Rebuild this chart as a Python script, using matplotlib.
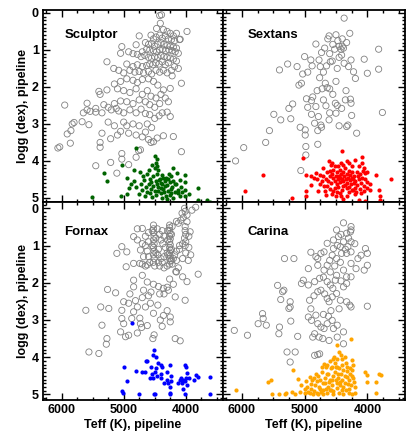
import matplotlib
matplotlib.use("Agg")
import matplotlib.pyplot as plt
from matplotlib.ticker import MultipleLocator

# (Teff, logg) pairs, per galaxy
SCL_GIANTS = [
    (4390, 0.05), (4420, 0.07), (4410, 0.28), (4360, 0.45), (4470, 0.42), (3980, 0.50), (4300, 0.50),
    (4250, 0.55), (4150, 0.55), (4200, 0.62), (4750, 0.62), (4560, 0.60), (4520, 0.70), (4480, 0.65),
    (4420, 0.60), (4380, 0.68), (4330, 0.62), (4280, 0.70), (4230, 0.72), (4180, 0.75), (4100, 0.72),
    (4090, 0.71), (4800, 0.86), (4650, 0.80), (4600, 0.85), (4550, 0.82), (4500, 0.90), (4450, 0.85),
    (4400, 0.80), (4350, 0.85), (4300, 0.88), (4250, 0.90), (4200, 0.92), (4150, 0.95), (4120, 1.09),
    (4170, 1.05), (4220, 1.02), (4270, 1.00), (4320, 1.02), (4370, 0.98), (4420, 1.00), (4470, 1.05),
    (4520, 1.02), (4580, 1.00), (4630, 0.98), (4700, 1.05), (5030, 0.91), (5050, 1.09), (4920, 1.05),
    (4850, 1.10), (4780, 1.12), (4720, 1.18), (4660, 1.15), (4600, 1.20), (4550, 1.22), (4500, 1.18),
    (4450, 1.20), (4400, 1.15), (4350, 1.18), (4300, 1.20), (4250, 1.22), (4200, 1.25), (4150, 1.30),
    (4280, 1.35), (4330, 1.40), (4380, 1.32), (4430, 1.38), (4480, 1.35), (4530, 1.40), (4580, 1.38),
    (4630, 1.42), (4700, 1.45), (4780, 1.40), (4850, 1.45), (4950, 1.38), (5270, 1.32), (5160, 1.50),
    (5080, 1.55), (5000, 1.62), (4900, 1.55), (4820, 1.60), (4750, 1.58), (4680, 1.62), (4600, 1.58),
    (4550, 1.65), (4480, 1.55), (4420, 1.60), (4360, 1.55), (4300, 1.62), (4230, 1.55), (4180, 1.45),
    (4220, 1.70), (4120, 1.50), (4070, 1.90), (4250, 2.04), (4360, 2.08), (4450, 1.95), (4520, 1.85),
    (4600, 1.78), (4700, 1.80), (4780, 1.88), (4850, 1.82), (4950, 1.78), (5050, 1.85), (5150, 1.92),
    (5270, 2.08), (5400, 2.12), (5380, 2.20), (5100, 2.05), (5000, 2.10), (4900, 2.15), (4800, 2.05),
    (4700, 2.20), (4620, 2.10), (4560, 2.25), (4480, 2.30), (4400, 2.20), (4330, 2.30), (4280, 2.40),
    (4420, 2.45), (4500, 2.55), (4580, 2.48), (4650, 2.40), (4750, 2.35), (4850, 2.45), (4950, 2.40),
    (5050, 2.38), (5150, 2.45), (5250, 2.55), (5320, 2.48), (5450, 2.58), (5590, 2.44), (5590, 2.62),
    (5540, 2.66), (5450, 2.68), (5650, 2.70), (5950, 2.49), (5800, 2.96), (5830, 3.00), (5670, 2.94),
    (5560, 3.02), (5350, 2.70), (5200, 2.62), (5120, 2.58), (5080, 2.65), (5000, 2.70), (4900, 2.62),
    (4800, 2.70), (4720, 2.60), (4650, 2.72), (4580, 2.75), (4500, 2.85), (4430, 2.78), (4380, 2.70),
    (4300, 2.68), (4250, 2.80), (5000, 2.95), (4950, 3.05), (5250, 2.95), (5150, 3.05), (4850, 3.00),
    (4750, 3.05), (4620, 3.00), (4550, 3.10), (5910, 3.27), (5850, 3.18), (5860, 3.52), (6030, 3.62),
    (6060, 3.65), (5350, 3.25), (5380, 3.63), (5380, 3.50), (5210, 3.40), (5100, 3.30), (5050, 3.20),
    (4920, 3.25), (4800, 3.30), (4700, 3.35), (4650, 3.22), (4600, 3.42), (4520, 3.48), (4460, 3.38),
    (4200, 3.34), (4360, 3.32), (5030, 3.80), (5030, 3.95), (4730, 3.70), (4760, 3.72), (4560, 3.50),
    (4070, 3.75), (5210, 4.04), (5110, 4.33), (5450, 4.13), (4920, 4.10), (4800, 3.90),
]
SCL_DWARFS = [
    (4800, 3.66), (4490, 3.88), (4470, 3.95), (4480, 4.05), (4460, 4.15), (4550, 4.11), (4500, 4.20),
    (4440, 4.25), (5320, 4.33), (5270, 4.53), (5510, 4.98), (5030, 4.11), (4840, 4.24), (4730, 4.29),
    (4840, 4.55), (4920, 4.72), (4950, 4.90), (5050, 4.96), (4680, 4.52), (4620, 4.35), (4580, 4.50),
    (4600, 4.62), (4560, 4.75), (4520, 4.40), (4480, 4.55), (4450, 4.70), (4420, 4.48), (4400, 4.60),
    (4380, 4.38), (4360, 4.75), (4340, 4.55), (4320, 4.45), (4300, 4.65), (4280, 4.80), (4260, 4.58),
    (4240, 4.42), (4220, 4.70), (4200, 4.20), (4200, 4.55), (4180, 4.85), (4140, 4.33), (4150, 4.62),
    (4010, 4.38), (4010, 4.58), (4010, 4.78), (4010, 4.96), (3800, 4.74), (3800, 5.05), (3660, 5.05),
    (3610, 5.10), (4120, 4.87), (4250, 4.92), (4320, 4.95), (4400, 4.88), (4480, 4.92), (4550, 4.98),
    (4620, 4.85), (4700, 4.78), (4760, 4.90), (4800, 4.70), (4880, 4.62), (4650, 4.95), (4380, 5.00),
    (4300, 5.02), (4200, 5.00), (4100, 4.95), (4070, 4.70), (4100, 4.52), (4440, 4.80), (4520, 4.68),
    (4360, 4.45), (4330, 4.68), (4460, 4.35), (4580, 4.88), (4280, 4.50), (4240, 4.75), (4400, 4.72),
    (4470, 4.62), (4350, 4.85), (4500, 4.80), (4560, 4.58), (4640, 4.70), (4720, 4.62), (4180, 4.62),
    (4130, 4.78), (4270, 4.35), (4430, 4.52), (4380, 4.62), (4230, 4.88), (4600, 4.25), (4690, 4.42),
    (4950, 4.45), (4060, 4.85), (3950, 4.90),
]
SEX_GIANTS = [
    (4370, 0.14), (4610, 0.62), (4500, 0.59), (4630, 0.70), (4470, 0.75), (4400, 0.70), (4520, 0.98),
    (4450, 0.90), (4380, 0.95), (4400, 0.90), (4420, 0.98), (4280, 0.55), (3820, 0.98), (3820, 1.52),
    (4820, 0.84), (4730, 1.07), (4680, 0.95), (4590, 1.32), (4560, 1.30), (4480, 1.50), (4410, 1.14),
    (4370, 1.36), (4260, 1.27), (4050, 1.25), (4000, 1.63), (4220, 1.59), (4190, 1.77), (5000, 1.18),
    (4900, 1.27), (4880, 1.43), (4770, 1.27), (4750, 1.45), (4650, 1.43), (5270, 1.38), (5120, 1.45),
    (5400, 1.54), (5030, 1.65), (5090, 1.95), (5050, 1.90), (4760, 1.75), (4670, 1.90), (4640, 2.02),
    (4720, 2.05), (4600, 2.05), (4340, 2.10), (4270, 2.33), (4260, 2.44), (4970, 2.32), (4870, 2.27),
    (4890, 2.37), (4820, 2.53), (4660, 2.51), (4510, 2.44), (4480, 2.50), (4410, 2.58), (5190, 2.46),
    (5250, 2.58), (5490, 2.74), (5380, 2.89), (5220, 2.86), (4890, 2.74), (4840, 2.98), (4740, 3.03),
    (4610, 2.89), (4500, 2.71), (4330, 3.07), (4310, 3.03), (4250, 2.77), (3760, 2.69), (5070, 3.09),
    (4990, 3.16), (4990, 3.30), (4790, 3.18), (4730, 3.09), (5560, 3.18), (5620, 3.50), (5970, 3.64),
    (6100, 4.00), (4980, 3.61), (4980, 3.84), (4790, 3.55), (5060, 4.26), (4170, 3.25), (4550, 0.85),
    (4330, 0.80), (4450, 1.20), (4600, 1.10), (4300, 1.45), (4700, 1.60), (4950, 1.60), (4500, 1.85),
    (4800, 2.10), (4550, 2.20), (4700, 2.35), (4350, 2.35), (4600, 2.70), (4950, 2.55), (4450, 3.05),
    (4780, 2.80),
]
SEX_DWARFS = [
    (5950, 4.81), (5670, 4.38), (5200, 4.99), (5020, 3.93), (4980, 4.38), (4970, 4.82), (4970, 4.96),
    (4890, 4.65), (4820, 4.33), (4760, 4.38), (4710, 4.20), (4690, 4.69), (4660, 4.92), (4610, 4.00),
    (4590, 4.27), (4540, 4.45), (4510, 4.72), (4460, 4.15), (4400, 3.73), (4430, 4.45), (4380, 4.68),
    (4330, 4.00), (4330, 4.72), (4250, 4.15), (4230, 4.50), (4200, 3.98), (4200, 4.72), (4150, 4.42),
    (4080, 3.90), (4080, 4.06), (4030, 4.33), (4000, 4.56), (3950, 4.78), (3870, 4.38), (3820, 4.78),
    (3800, 4.95), (3800, 5.05), (3630, 4.50), (4200, 4.90), (4250, 4.78), (4330, 4.96), (4440, 4.86),
    (4560, 4.90), (4380, 5.04), (4130, 5.05), (4030, 5.08), (4700, 4.40), (4650, 4.30), (4620, 4.55),
    (4600, 4.40), (4580, 4.60), (4560, 4.35), (4540, 4.25), (4520, 4.55), (4500, 4.40), (4490, 4.62),
    (4480, 4.30), (4470, 4.50), (4460, 4.70), (4450, 4.40), (4440, 4.25), (4430, 4.58), (4420, 4.35),
    (4410, 4.78), (4400, 4.48), (4390, 4.30), (4380, 4.55), (4370, 4.40), (4360, 4.65), (4350, 4.20),
    (4340, 4.50), (4330, 4.35), (4320, 4.60), (4310, 4.45), (4300, 4.28), (4290, 4.70), (4280, 4.52),
    (4270, 4.38), (4260, 4.62), (4250, 4.45), (4240, 4.30), (4230, 4.78), (4220, 4.60), (4210, 4.40),
    (4190, 4.55), (4170, 4.30), (4160, 4.65), (4140, 4.50), (4120, 4.35), (4110, 4.75), (4100, 4.60),
    (4090, 4.45), (4070, 4.28), (4060, 4.68), (4040, 4.50), (4600, 4.75), (4640, 4.68), (4550, 4.82),
    (4480, 4.85), (4520, 4.15), (4580, 4.12), (4660, 4.50), (4720, 4.55), (4750, 4.62), (4800, 4.50),
    (4850, 4.45), (4900, 4.40), (4780, 4.80), (4680, 4.80), (4500, 4.95), (4420, 4.95), (4300, 4.85),
    (4180, 4.85), (4100, 4.88), (4050, 4.80), (4000, 4.72), (3960, 4.62), (4000, 4.30), (4050, 4.20),
    (4130, 4.15), (4380, 4.12), (4420, 4.05), (4290, 4.05), (4560, 4.05),
]
FNX_GIANTS = [
    (4020, 0.00), (4060, 0.13), (4010, 0.08), (3980, 0.18), (3840, -0.03), (3900, 0.05), (4040, 0.25),
    (4080, 0.32), (4120, 0.40), (4220, 0.49), (4150, 0.35), (4010, 0.49), (3980, 0.36), (3930, 0.63),
    (3950, 0.75), (4520, 0.45), (4520, 0.55), (4520, 0.65), (4510, 0.75), (4520, 0.85), (4510, 0.95),
    (4520, 1.05), (4510, 1.15), (4520, 1.25), (4510, 1.35), (4520, 1.45), (4500, 1.55), (4540, 0.60),
    (4540, 1.00), (4480, 0.80), (4480, 1.20), (4260, 0.45), (4260, 0.52), (4260, 0.60), (4250, 0.68),
    (4260, 0.75), (4250, 0.82), (4260, 0.90), (4250, 0.98), (4260, 1.05), (4250, 1.12), (4260, 1.20),
    (4250, 1.28), (4260, 1.35), (4250, 1.42), (4260, 1.50), (4230, 0.70), (4290, 0.85), (4230, 1.10),
    (4290, 1.25), (4230, 1.40), (4290, 0.60), (4010, 0.60), (4000, 0.70), (4020, 0.80), (4000, 0.90),
    (4010, 1.00), (4050, 0.95), (4100, 1.00), (4100, 1.10), (4150, 1.15), (4180, 1.25), (4200, 1.35),
    (4150, 1.40), (4220, 1.50), (4300, 1.55), (4350, 1.60), (4380, 1.45), (4400, 1.35), (4350, 1.30),
    (4300, 1.20), (4330, 1.05), (4370, 0.95), (4400, 0.85), (4420, 0.70), (4380, 0.60), (4350, 0.75),
    (4440, 1.10), (4450, 1.25), (4440, 1.45), (4420, 1.55), (4460, 0.55), (4600, 0.65), (4650, 0.75),
    (4600, 0.90), (4650, 1.00), (4620, 1.15), (4600, 1.30), (4680, 1.30), (4580, 1.45), (4650, 1.55),
    (4700, 1.50), (4700, 0.54), (4780, 0.55), (4840, 0.76), (4780, 0.85), (4730, 1.12), (4700, 0.95),
    (4950, 1.17), (5030, 1.03), (5110, 1.21), (4960, 1.57), (4840, 1.48), (4740, 1.48), (4620, 1.52),
    (4120, 1.60), (4160, 1.70), (4050, 1.35), (4000, 1.20), (3950, 1.05), (3920, 1.25), (3960, 1.40),
    (4840, 1.93), (4840, 2.11), (4700, 1.80), (4620, 1.98), (4520, 2.04), (4440, 2.10), (4360, 2.15),
    (4420, 2.30), (4560, 2.25), (4700, 2.40), (4150, 1.71), (4050, 1.84), (3980, 1.97), (3800, 1.77),
    (4260, 1.90), (4200, 2.04), (4300, 2.12), (4010, 2.47), (4170, 2.38), (4280, 2.20), (4350, 2.30),
    (5260, 2.18), (5130, 2.27), (5000, 2.51), (5030, 2.74), (4920, 2.55), (4840, 2.78), (4810, 2.48),
    (4780, 2.65), (4650, 2.65), (4570, 2.55), (4520, 2.82), (4410, 3.00), (4360, 2.88), (4300, 2.75),
    (4250, 2.92), (5610, 2.74), (5370, 2.65), (5240, 2.69), (5350, 3.14), (5030, 2.96), (5000, 3.10),
    (5050, 3.32), (4920, 3.41), (4970, 3.45), (4870, 2.96), (4730, 3.10), (4710, 3.20), (4740, 2.95),
    (4780, 3.35), (4620, 3.15), (4530, 3.50), (4510, 3.40), (4380, 3.17), (5270, 3.50), (5280, 3.65),
    (5560, 3.86), (5400, 3.90), (4170, 3.50), (4090, 3.56), (4250, 3.05), (4600, 2.35), (4450, 2.60),
    (4900, 2.30), (4680, 2.20),
]
FNX_DWARFS = [
    (4870, 3.07), (4510, 3.80), (4530, 3.95), (4480, 4.00), (4560, 4.25), (4620, 4.10), (4640, 4.10),
    (4450, 4.15), (4480, 4.30), (4400, 4.20), (4380, 4.25), (4250, 4.20), (4300, 4.40), (4400, 4.45),
    (4460, 4.50), (4500, 4.40), (4530, 4.55), (4550, 4.45), (4580, 4.55), (4650, 4.40), (4710, 4.40),
    (4800, 4.38), (5000, 4.25), (4940, 4.65), (5020, 4.90), (5010, 4.95), (4750, 5.00), (4500, 4.98),
    (4510, 5.00), (4260, 5.00), (4250, 4.95), (4250, 4.80), (4280, 4.70), (4230, 4.65), (4350, 4.68),
    (4400, 4.55), (4100, 4.60), (4020, 4.20), (4000, 4.25), (3980, 4.42), (3950, 4.55), (4000, 4.55),
    (4050, 4.60), (4080, 4.55), (4020, 4.65), (3980, 4.75), (4050, 4.85), (4060, 4.70), (4020, 5.00),
    (3870, 4.60), (3840, 4.48), (3810, 4.53), (3610, 4.53), (3610, 5.00), (4300, 4.60), (4230, 4.50),
    (4120, 4.70),
]
CAR_GIANTS = [
    (4380, 0.39), (4260, 0.49), (4260, 0.58), (4270, 0.63), (4330, 0.67), (4490, 0.58), (4460, 0.76),
    (4540, 0.85), (4380, 0.90), (4260, 0.90), (4310, 1.03), (4430, 1.03), (4540, 1.08), (4640, 0.94),
    (4690, 1.17), (4740, 1.21), (4790, 1.35), (4560, 1.26), (4490, 1.35), (4410, 1.21), (4330, 1.21),
    (4260, 1.17), (4900, 1.18), (4820, 1.30), (4030, 1.08), (4000, 1.21), (4100, 1.26), (4000, 1.53),
    (4050, 1.66), (4260, 1.48), (4380, 1.66), (4180, 1.62), (4330, 1.84), (4260, 1.84), (5320, 1.35),
    (5170, 1.35), (4940, 1.62), (4790, 1.53), (4690, 1.66), (4640, 1.53), (4590, 1.71), (4490, 1.80),
    (5020, 1.93), (5050, 2.02), (4940, 2.06), (4840, 1.97), (4760, 1.88), (4740, 2.20), (4790, 2.24),
    (4640, 1.97), (4590, 2.06), (4510, 1.93), (4380, 2.11), (4330, 2.02), (5430, 2.07), (5350, 2.24),
    (5330, 2.20), (5380, 2.45), (5230, 2.51), (5230, 2.65), (5250, 2.69), (4920, 2.47), (4640, 2.42),
    (4610, 2.51), (4560, 2.38), (4490, 2.29), (4430, 2.47), (4330, 2.51), (4280, 2.60), (4260, 2.65),
    (4000, 2.63), (5670, 2.83), (5660, 2.96), (5740, 3.10), (5610, 3.14), (5400, 3.19), (5410, 3.37),
    (5220, 3.03), (4940, 2.92), (4890, 3.01), (4820, 2.87), (4790, 3.10), (4740, 3.19), (4690, 3.23),
    (4640, 3.10), (4560, 3.01), (4540, 3.23), (4480, 3.14), (4380, 3.32), (4840, 3.37), (4770, 3.46),
    (4710, 3.50), (4870, 3.46), (4610, 3.55), (4480, 3.46), (4380, 3.64), (6120, 3.28), (5910, 3.41),
    (5110, 3.44), (5280, 3.86), (5150, 3.86), (5230, 4.13), (4840, 3.95), (4760, 3.91), (4790, 3.93),
    (4300, 0.80), (4420, 0.70), (4350, 1.10), (4480, 1.00), (4200, 0.95), (4150, 1.35), (4430, 1.45),
    (4600, 1.40), (4520, 1.55), (4700, 1.85), (4420, 1.95), (4550, 2.15), (4680, 2.30), (4850, 2.35),
    (4450, 2.70), (4580, 2.75), (4700, 2.85), (4900, 2.70), (4620, 2.90),
]
CAR_DWARFS = [
    (6090, 4.89), (5580, 4.67), (5540, 4.60), (5520, 4.98), (5320, 4.98), (5290, 4.96), (5200, 4.94),
    (5180, 4.35), (5100, 4.58), (5070, 4.94), (5000, 4.96), (4950, 4.94), (4900, 4.72), (4920, 4.54),
    (4870, 4.98), (4820, 4.45), (4800, 4.63), (4770, 4.80), (4740, 4.93), (4690, 4.17), (4660, 4.26),
    (4640, 4.44), (4610, 4.67), (4590, 4.89), (4560, 4.26), (4530, 3.99), (4490, 3.68), (4480, 4.26),
    (4460, 4.44), (4430, 4.67), (4400, 4.89), (4380, 4.98), (4360, 4.00), (4330, 4.26), (4330, 4.53),
    (4310, 4.71), (4280, 4.44), (4260, 3.50), (4250, 4.08), (4250, 4.98), (4230, 4.22), (4220, 4.67),
    (4200, 4.80), (4030, 4.40), (4000, 4.49), (4000, 4.67), (3870, 4.67), (3860, 4.96), (3820, 4.44),
    (3790, 4.49), (4900, 4.85), (4850, 4.90), (4800, 4.95), (4750, 4.60), (4720, 4.40), (4700, 4.70),
    (4680, 4.55), (4660, 4.85), (4640, 4.20), (4620, 4.45), (4600, 4.60), (4580, 4.30), (4570, 4.75),
    (4550, 4.50), (4540, 4.90), (4520, 4.15), (4510, 4.40), (4500, 4.62), (4490, 4.82), (4480, 4.05),
    (4470, 4.55), (4450, 4.30), (4440, 4.75), (4420, 4.45), (4410, 4.20), (4400, 4.60), (4390, 4.35),
    (4380, 4.80), (4360, 4.50), (4350, 4.70), (4340, 4.15), (4320, 4.38), (4300, 4.85), (4290, 4.60),
    (4270, 4.30), (4260, 4.75), (4240, 4.50), (4300, 4.95), (4450, 4.95), (4550, 4.98), (4650, 4.95),
    (4700, 4.98), (4760, 4.85), (4830, 4.75), (4880, 4.60), (4960, 4.80), (5050, 4.75), (4980, 4.65),
    (4720, 4.25), (4600, 4.10), (4420, 3.95), (4560, 4.62), (4500, 4.25), (4620, 4.80), (4680, 4.70),
    (4780, 4.50), (4400, 4.05), (4450, 3.85), (4540, 4.05), (4250, 4.35), (4230, 4.55), (5150, 4.98),
    (5400, 4.98), (5000, 4.85), (4920, 4.95), (4780, 4.98), (4850, 4.55), (4700, 4.88), (4580, 4.88),
    (4480, 4.70), (4340, 4.88), (4200, 4.95),
]

NAMES = ["Sculptor", "Sextans", "Fornax", "Carina"]
GIANTS = [SCL_GIANTS, SEX_GIANTS, FNX_GIANTS, CAR_GIANTS]
DWARFS = [SCL_DWARFS, SEX_DWARFS, FNX_DWARFS, CAR_DWARFS]
COLORS = ["#006400", "#ff0000", "#0000ff", "#ffa500"]

plt.rcParams["font.family"] = ["Liberation Sans", "DejaVu Sans"]

fig = plt.figure(figsize=(4.15, 4.44), dpi=100)
W, H = 415, 444
# panel boxes in pixels: (left, top, right, bottom)
boxes = [(43, 10, 223, 202), (223, 10, 405, 202), (43, 202, 223, 400), (223, 202, 405, 400)]
ylims = [(5.11, -0.08), (5.11, -0.08), (5.15, -0.17), (5.15, -0.17)]

for i, (name, giants, dwarfs, col) in enumerate(zip(NAMES, GIANTS, DWARFS, COLORS)):
    l, t, r, b = boxes[i]
    ax = fig.add_axes([l / W, 1 - b / H, (r - l) / W, (b - t) / H])
    gx, gy = zip(*giants)
    dx, dy = zip(*dwarfs)
    ax.scatter(gx, gy, s=20, facecolors="none", edgecolors="#808080", linewidths=0.6, zorder=2)
    ax.scatter(dx, dy, s=9, color=col, linewidths=0, zorder=3)
    ax.set_xlim(6300, 3400)
    ax.set_ylim(*ylims[i])
    ax.xaxis.set_major_locator(MultipleLocator(1000))
    ax.xaxis.set_minor_locator(MultipleLocator(250))
    ax.yaxis.set_major_locator(MultipleLocator(1))
    ax.yaxis.set_minor_locator(MultipleLocator(0.1))
    ax.tick_params(which="both", direction="in", top=True, right=True, width=1.0)
    ax.tick_params(which="major", length=5)
    ax.tick_params(which="minor", length=2.5)
    for sp in ax.spines.values():
        sp.set_linewidth(1.3)
    for lab in ax.get_xticklabels() + ax.get_yticklabels():
        lab.set_fontweight("bold")
        lab.set_fontsize(9)
    if i % 2 == 1:
        ax.set_yticklabels([])
    else:
        ax.set_ylabel("logg (dex), pipeline", fontsize=9, fontweight="bold", labelpad=2)
    if i < 2:
        ax.set_xticklabels([])
    else:
        ax.set_xlabel("Teff (K), pipeline", fontsize=9, fontweight="bold", labelpad=2)
    ax.tick_params(axis="both", which="major", pad=3)
    ax.text(0.12 if i % 2 == 0 else 0.135, 0.87 if i < 2 else 0.85, name,
            transform=ax.transAxes, fontsize=9.5, fontweight="bold", va="center", ha="left")

fig.savefig("out.png", dpi=100)
